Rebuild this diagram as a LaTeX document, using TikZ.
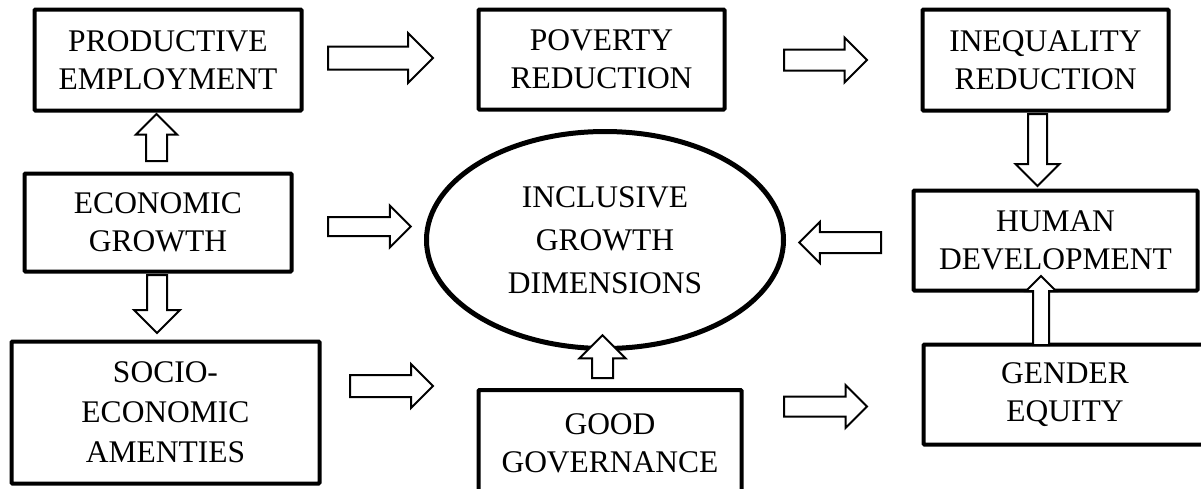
\documentclass[tikz,border=0pt]{standalone}
\usepackage{fontspec}
\setmainfont{Liberation Serif}
\usetikzlibrary{calc,shapes.geometric,shapes.arrows}

\tikzset{
  box/.style={draw,line width=4pt,rounded corners=1pt,align=center,inner sep=0pt,
    font=\fontsize{31.5}{38}\selectfont},
  hollow/.style={single arrow,draw,fill=white,line width=2pt,inner sep=0pt,
    inner ysep=9.5pt,outer sep=0pt,minimum width=0pt,single arrow head extend=11.5pt},
}

% block arrow from one point to another
\newcommand{\hollowarrow}[3][]{%
  \path let \p1=($(#3)-(#2)$), \n1={veclen(\x1,\y1)}, \n2={atan2(\y1,\x1)} in
    node[hollow,#1,minimum height=\n1,rotate=\n2,anchor=tail] at (#2) {};
}

\begin{document}
\begin{tikzpicture}[x=1pt,y=-1pt]
\useasboundingbox (0,0) rectangle (1201,488);
\clip (0,0) rectangle (1201,488);

% Boxes
\node[box,minimum width=267pt,minimum height=101pt] (pe) at (168,60) {PRODUCTIVE\\EMPLOYMENT};
\node[box,minimum width=246pt,minimum height=100pt] (pr) at (601.5,59.5) {POVERTY\\REDUCTION};
\node[box,minimum width=246pt,minimum height=101pt] (ineq) at (1045.5,60) {INEQUALITY\\REDUCTION};
\node[box,minimum width=267pt,minimum height=98pt] (eg) at (158,222.5) {ECONOMIC\\GROWTH};
\node[box,minimum width=284pt,minimum height=100pt] (hd) at (1055.5,240.5) {HUMAN\\DEVELOPMENT};
\node[box,minimum width=308pt,minimum height=142pt,font=\fontsize{31.5}{40}\selectfont] (sea) at (165.5,412.5) {SOCIO-\\ECONOMIC\\AMENTIES};
\node[box,minimum width=263pt,minimum height=106pt] (gg) at (610,443) {GOOD\\GOVERNANCE};
\node[box,minimum width=283pt,minimum height=100pt] (ge) at (1065,394.5) {GENDER\\EQUITY};

% Centre
\node[box,ellipse,line width=5pt,minimum width=357pt,minimum height=217pt,
  font=\fontsize{31.5}{43}\selectfont] (incl) at (605,240) {INCLUSIVE\\GROWTH\\DIMENSIONS};

% Arrows
\hollowarrow[inner ysep=10.5pt,single arrow head extend=13.5pt]{$(pe.east)+(24.5,-2)$}{$(pr.west)+(-43.5,-1.5)$}
\hollowarrow[single arrow head extend=12pt]{$(pr.east)+(57.5,0.5)$}{$(ineq.west)+(-53.5,0)$}
\hollowarrow[single arrow head extend=10pt]{$(eg.north)+(-1.5,-10.5)$}{$(pe.south)+(-11.5,1.5)$}
\hollowarrow[inner ysep=9pt,single arrow head extend=13pt]{$(eg.south)+(-1,1.5)$}{$(sea.north)+(-8.5,-6.5)$}
\hollowarrow[inner ysep=8.5pt]{$(eg.east)+(34.5,4)$}{$(incl.west)+(-13.25,-13.5)$}
\hollowarrow[inner ysep=10pt,single arrow head extend=11pt]{$(sea.east)+(28.5,-26.5)$}{$(gg.west)+(-43.5,-57)$}
\hollowarrow[inner ysep=8.5pt,single arrow head extend=12.5pt]{$(ineq.south)+(-8,1.5)$}{$(hd.north)+(-18,-2.5)$}
\hollowarrow[single arrow head extend=10pt]{$(hd.west)+(-30.5,2)$}{$(incl.east)+(13.25,2.5)$}
\hollowarrow[inner ysep=7pt,single arrow head extend=7pt]{$(ge.north)+(-24,2.5)$}{$(hd.south)+(-14.5,-16.5)$}
\hollowarrow[single arrow head extend=12.5pt]{$(gg.north)+(-7.5,-10)$}{$(incl.south)+(-2.5,-15.75)$}
\hollowarrow[inner ysep=9pt]{$(gg.east)+(40.5,-36.5)$}{$(ge.west)+(-54.5,12)$}
\end{tikzpicture}
\end{document}
